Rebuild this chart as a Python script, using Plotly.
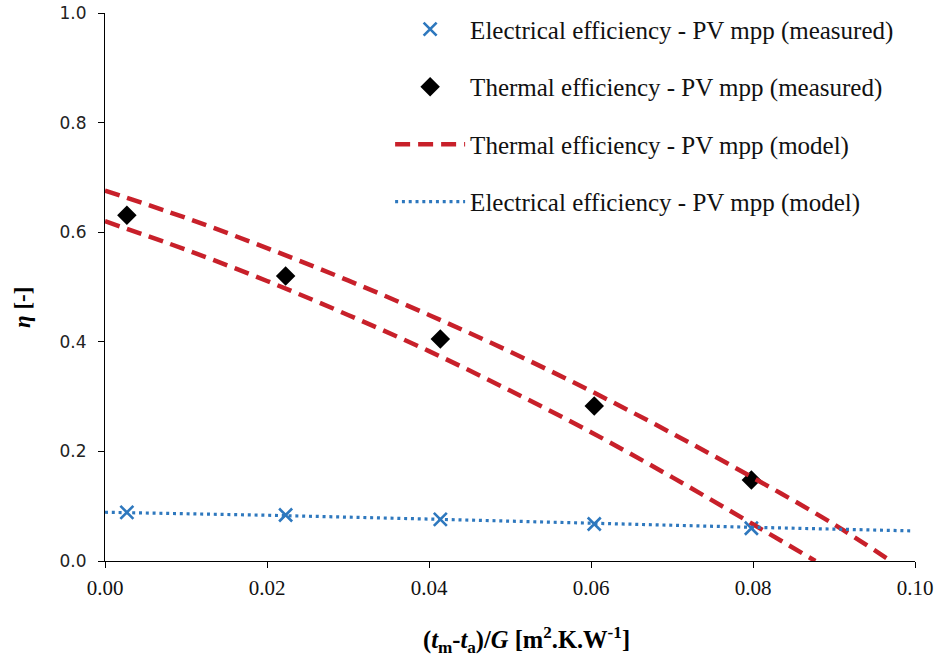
import plotly.graph_objects as go

# Measured points
x_meas = [0.0027, 0.0223, 0.0414, 0.0604, 0.0798]
eta_th_meas = [0.631, 0.520, 0.405, 0.283, 0.148]
eta_el_meas = [0.0888, 0.0839, 0.0761, 0.0675, 0.0597]

# Thermal model curves (upper / lower)
x_th_up = [0.0, 0.01, 0.02, 0.03, 0.04, 0.05, 0.06, 0.07, 0.08, 0.09, 0.097]
eta_th_up = [0.676, 0.626, 0.571, 0.512, 0.449, 0.382, 0.310, 0.233, 0.152, 0.067, 0.0]
x_th_lo = [0.0, 0.01, 0.02, 0.03, 0.04, 0.05, 0.06, 0.07, 0.08, 0.0877]
eta_th_lo = [0.620, 0.568, 0.511, 0.449, 0.383, 0.311, 0.235, 0.153, 0.067, 0.0]

# Electrical model line
x_el_mod = [0.0, 0.02, 0.04, 0.06, 0.08, 0.0995]
eta_el_mod = [0.089, 0.0835, 0.0765, 0.0685, 0.0615, 0.055]

x_ticks = [0.0, 0.02, 0.04, 0.06, 0.08, 0.10]
x_ticklabels = ["0.00", "0.02", "0.04", "0.06", "0.08", "0.10"]
y_ticks = [0.0, 0.2, 0.4, 0.6, 0.8, 1.0]
y_ticklabels = ["0.0", "0.2", "0.4", "0.6", "0.8", "1.0"]

x_title = "<b>(<i>t</i><sub>m</sub>-<i>t</i><sub>a</sub>)/<i>G</i> [m<sup>2</sup>.K.W<sup>-1</sup>]</b>"
y_title = "<b><i>η</i> [-]</b>"

BLUE = "#2E78BE"
RED = "#C8202A"

fig = go.Figure()
fig.add_trace(go.Scatter(
    x=x_meas, y=eta_el_meas, mode="markers",
    name="Electrical efficiency - PV mpp (measured)", legendgroup="a",
    marker=dict(symbol="x-thin", size=13, line=dict(color=BLUE, width=2.6), color=BLUE)))
fig.add_trace(go.Scatter(
    x=x_meas, y=eta_th_meas, mode="markers",
    name="Thermal efficiency - PV mpp (measured)", legendgroup="b",
    marker=dict(symbol="diamond", size=15, color="black")))
fig.add_trace(go.Scatter(
    x=x_th_up, y=eta_th_up, mode="lines", line_shape="spline",
    name="Thermal efficiency - PV mpp (model)", legendgroup="c",
    line=dict(color=RED, width=4.5, dash="15px,8px")))
fig.add_trace(go.Scatter(
    x=x_th_lo, y=eta_th_lo, mode="lines", line_shape="spline",
    name="Thermal efficiency - PV mpp (model)", legendgroup="c", showlegend=False,
    line=dict(color=RED, width=4.5, dash="15px,8px")))
fig.add_trace(go.Scatter(
    x=x_el_mod, y=eta_el_mod, mode="lines",
    name="Electrical efficiency - PV mpp (model)", legendgroup="d",
    line=dict(color=BLUE, width=3.2, dash="3px,3.8px")))

fig.update_layout(
    width=936, height=657,
    margin=dict(l=105, r=21, t=13, b=96, autoexpand=False),
    plot_bgcolor="white", paper_bgcolor="white",
    font=dict(family="Liberation Serif", color="black"),
    legend=dict(
        x=0.352, y=1.012, xanchor="left", yanchor="top",
        font=dict(family="Liberation Serif", size=25, color="#111"),
        traceorder="grouped", tracegroupgap=22, itemwidth=70,
        bgcolor="rgba(0,0,0,0)"),
    xaxis=dict(
        range=[0, 0.10], tickvals=x_ticks, ticktext=x_ticklabels, automargin=False,
        showline=True, linecolor="black", linewidth=1.2,
        ticks="outside", ticklen=6, tickcolor="black", showgrid=False, zeroline=False,
        ticklabelstandoff=2,
        tickfont=dict(family="Liberation Serif", size=21, color="#111")),
    yaxis=dict(
        range=[0, 1.0], tickvals=y_ticks, ticktext=y_ticklabels, automargin=False,
        showline=True, linecolor="black", linewidth=1.2,
        ticks="outside", ticklen=6, tickcolor="black", showgrid=False, zeroline=False,
        ticklabelstandoff=8,
        tickfont=dict(family="DejaVu Sans", size=17, color="#222")),
    annotations=[
        dict(text=x_title, xref="paper", yref="paper", x=0.52, y=-0.144,
             xanchor="center", yanchor="middle", showarrow=False,
             font=dict(family="Liberation Serif", size=24.5, color="black")),
        dict(text=y_title, xref="paper", yref="paper", x=-0.1025, y=0.4635,
             xanchor="center", yanchor="middle", showarrow=False, textangle=-90,
             font=dict(family="Liberation Serif", size=23, color="black")),
    ],
)

fig.write_html("out.html")
